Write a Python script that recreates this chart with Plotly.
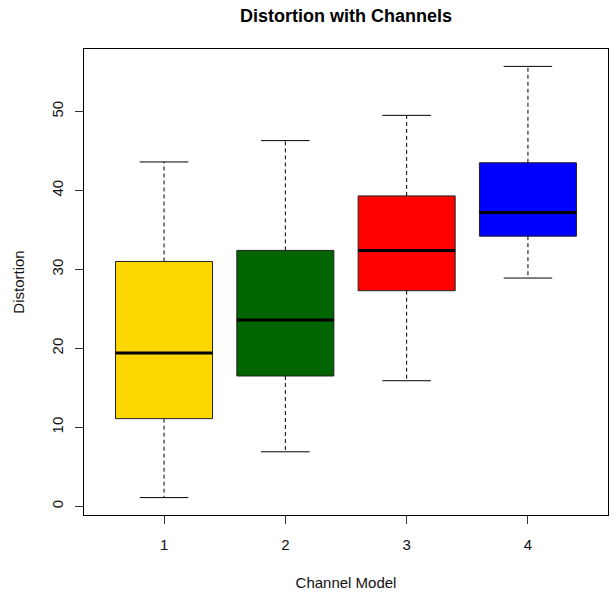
import plotly.graph_objects as go

categories = [1, 2, 3, 4]
lower_whisker = [1.1, 6.9, 15.9, 28.9]
q1 = [11.1, 16.5, 27.3, 34.2]
median = [19.4, 23.6, 32.4, 37.2]
q3 = [31.0, 32.4, 39.3, 43.5]
upper_whisker = [43.6, 46.3, 49.5, 55.7]
colors = ["#FFD700", "#006400", "#FF0000", "#0000FF"]

box_w = 0.8
cap_w = 0.4

fig = go.Figure()

# boxes
fig.add_trace(go.Bar(
    x=categories, base=q1, y=[b - a for a, b in zip(q1, q3)],
    width=box_w, marker=dict(color=colors, line=dict(color="#222222", width=1)),
    showlegend=False, hoverinfo="skip"))

for i, c in enumerate(categories):
    # whiskers (dashed)
    fig.add_trace(go.Scatter(x=[c, c, None, c, c],
                             y=[q3[i], upper_whisker[i], None, q1[i], lower_whisker[i]],
                             mode="lines", line=dict(color="black", width=1, dash="4px,3px"),
                             showlegend=False, hoverinfo="skip"))
    # caps
    fig.add_trace(go.Scatter(x=[c - cap_w / 2, c + cap_w / 2, None, c - cap_w / 2, c + cap_w / 2],
                             y=[upper_whisker[i], upper_whisker[i], None, lower_whisker[i], lower_whisker[i]],
                             mode="lines", line=dict(color="black", width=1),
                             showlegend=False, hoverinfo="skip"))
    # median
    fig.add_trace(go.Scatter(x=[c - box_w / 2, c + box_w / 2], y=[median[i], median[i]],
                             mode="lines", line=dict(color="black", width=3),
                             showlegend=False, hoverinfo="skip"))

font = "Liberation Sans, Arial, sans-serif"
fig.update_layout(
    width=616, height=596,
    margin=dict(l=84, r=7, t=49, b=77),
    plot_bgcolor="white", paper_bgcolor="white",
    barmode="overlay",
    font=dict(family=font, size=15, color="#111111"),
    title=dict(text="<b>Distortion with Channels</b>", x=0.5, xref="paper",
               y=1 - 16 / 596, yref="container", yanchor="middle", xanchor="center",
               font=dict(size=18, color="black")),
    xaxis=dict(range=[0.34, 4.66], tickvals=categories, ticktext=[str(c) for c in categories],
               showgrid=False, zeroline=False, showline=True, mirror=True, linecolor="black",
               linewidth=1, ticks="outside", ticklen=8, tickcolor="#333333",
               ticklabelstandoff=8, tickfont=dict(size=15),
               title=dict(text="Channel Model", standoff=25, font=dict(size=15))),
    yaxis=dict(range=[-1.1, 57.9], tickvals=[0, 10, 20, 30, 40, 50],
               showgrid=False, zeroline=False, showline=True, mirror=True, linecolor="black",
               linewidth=1, ticks="outside", ticklen=8, tickcolor="#333333",
               tickangle=-90, ticklabelstandoff=6, tickfont=dict(size=15),
               title=dict(text="Distortion", standoff=20, font=dict(size=15))),
)

fig.write_html("out.html")
